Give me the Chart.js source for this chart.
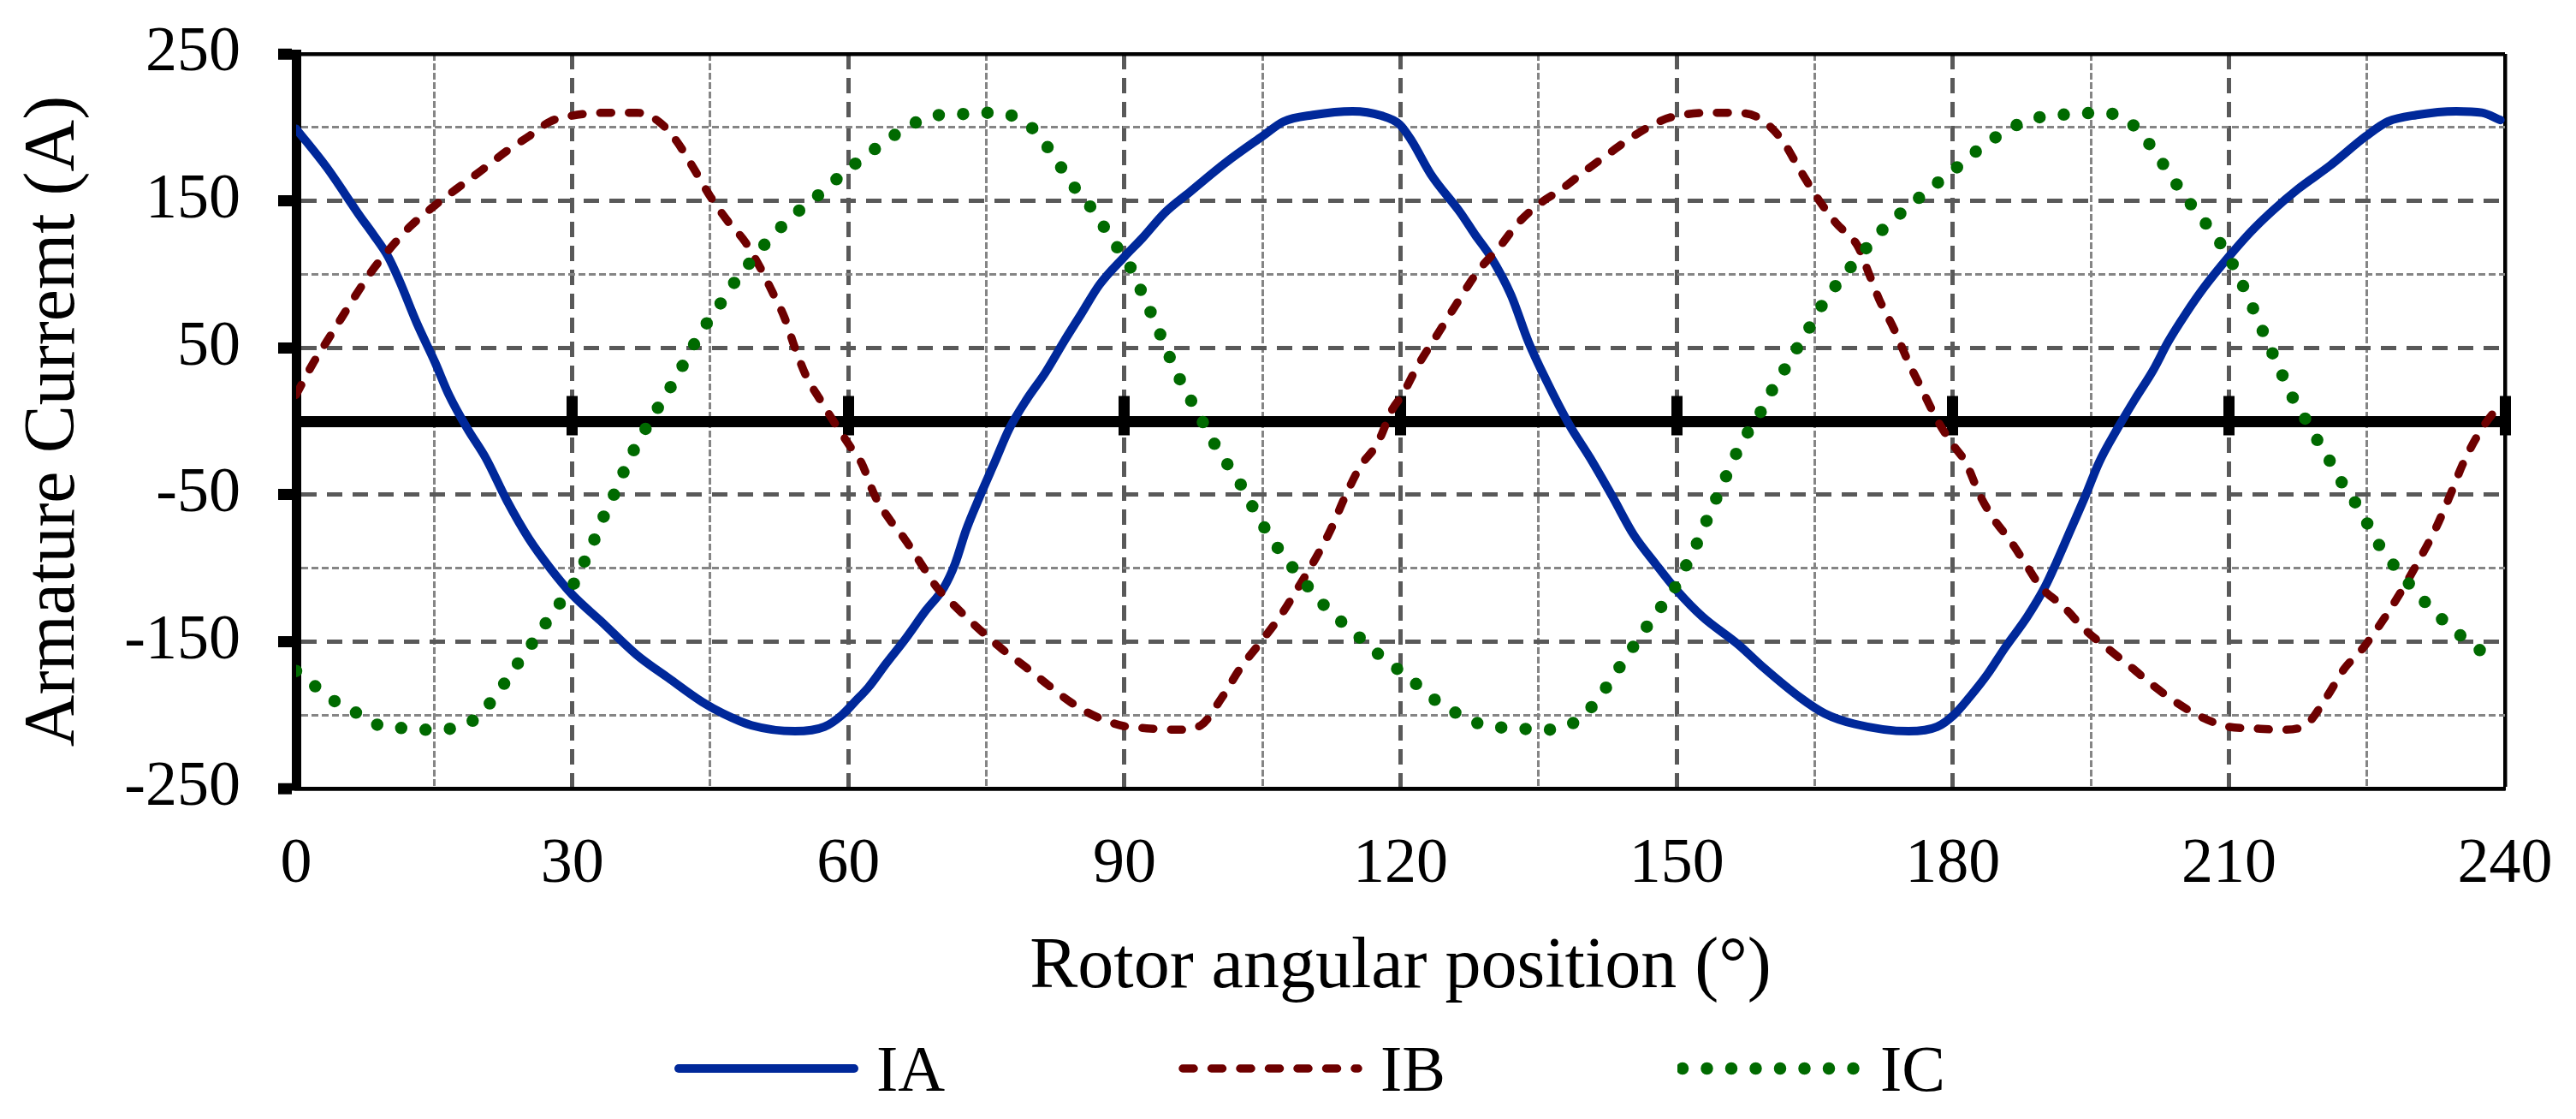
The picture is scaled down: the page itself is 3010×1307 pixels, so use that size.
<!DOCTYPE html>
<html>
<head>
<meta charset="utf-8">
<script src="https://cdn.jsdelivr.net/npm/chart.js@4.4.1/dist/chart.umd.min.js"></script>
<style>
    html, body { margin: 0; padding: 0; background: #fff; }
    #wrap { position: relative; width: 3010px; height: 1307px; }
    #legend { position: absolute; left: 0; top: 1210px; width: 3010px; height: 76px;
              font-family: 'Liberation Serif', 'Times New Roman', serif; font-size: 76px; color: #000; }
    .item { position: absolute; top: 0; height: 76px; display: flex; align-items: center; line-height: 1; }
    .item svg { margin-right: 20px; }
</style>
</head>
<body>
<div id="wrap">
    <canvas id="chartCurrent"></canvas>
    <div id="legend"></div>
</div>
<script>
// Phase currents (angle in degrees, current in A)
const angleA = [0, 3.3, 6.9, 8.4, 10, 11.2, 13.1, 15.1, 16.6, 18.6, 20.6, 22.9, 25.3, 27.6, 30, 33.1, 37, 40.5, 44.1, 46.4,
    49.5, 54.2, 57.4, 59.3, 60.7, 62.2, 64.1, 66.1, 68.4, 70.4, 71.6, 72.8, 74.3, 75.9, 77.5, 79.4, 81.4, 83.4, 85.3, 87.3,
    90, 92, 94.4, 97.1, 101, 105, 107.3, 110.5, 114.8, 117.9, 119.9, 121.2, 123.3, 126.5, 128.1, 129.8, 132, 133.9, 135.9, 138.3,
    140.6, 143, 145.3, 147.7, 150, 152.8, 156.7, 159.5, 163.4, 166.1, 169.3, 175.2, 178.3, 180.1, 181.8, 183.8, 185.7, 188.1, 190, 191.2,
    192.8, 194.4, 195.9, 197.9, 199.8, 201.8, 203.4, 205.3, 207.3, 210, 212.4, 214.7, 217.5, 221, 224.9, 227.3, 230.4, 234.7, 237.5, 239.5];
const currentA = [199, 173, 140, 127, 112, 96, 67, 40, 18, -5, -25, -54, -80, -100, -118, -136, -159, -175, -191, -199,
    -207, -211, -208, -200, -191, -181, -165, -149, -129, -113, -97, -74, -51, -28, -5, 15, 33, 54, 73, 93,
    112, 125, 142, 156, 176, 194, 204, 208.5, 211, 208, 202, 191, 168, 142, 127, 112, 86, 54, 27, -2,
    -25, -51, -77, -97, -115, -133, -152, -168, -188, -199, -206, -211, -208, -200, -188, -172, -154, -133, -113, -97,
    -74, -51, -28, -5, 15, 35, 54, 73, 91, 112, 129, 143, 158, 174, 194, 204, 208.5, 211, 210, 205];

const angleB = [0, 1.8, 3.3, 4.9, 6.5, 8.2, 10, 12.3, 15.1, 17.4, 20.2, 22.9, 25.3, 27.6, 30, 33.9, 37, 39.4, 41.3, 43.3,
    45, 46.8, 48.8, 50.3, 51.9, 53.1, 54.2, 55.4, 57, 58.6, 60.5, 61.4, 62.9, 64.5, 66.1, 67.7, 69.6, 71.6, 74.3, 76.7,
    79.4, 81.8, 84.1, 86.9, 90, 92.4, 95.9, 98.3, 100.6, 102.6, 104.6, 106.9, 108.9, 110.8, 112.4, 114, 115.6, 117.5, 119.1, 120.2,
    121.8, 124.1, 126.1, 128.4, 130.8, 132.8, 135.1, 137.5, 140.2, 142.6, 145.3, 148.1, 150.1, 154.4, 157.5, 159.5, 161.5, 163.4, 165.4, 167.3,
    169.7, 170.8, 172, 173.6, 175.2, 176.7, 178.3, 179.9, 181.4, 183, 184.5, 186.1, 187.7, 189.6, 192, 194.4, 196.7, 199.5, 201.8, 204.2,
    206.9, 210, 212.4, 215.9, 218.3, 220.6, 222.6, 224.5, 226.9, 228.9, 230.8, 232.4, 234, 235.5, 237.5, 239.1, 240];
const currentB = [18, 39, 54, 70, 86, 102, 116, 132, 147, 158, 171, 184, 194, 204, 208, 210, 210, 204, 191, 171,
    153, 137, 122, 106, 86, 70, 50, 31, 14, -2, -20, -28, -51, -67, -80, -95, -113, -126, -142, -155,
    -168, -180, -191, -201, -207.6, -209, -210, -207, -188, -168, -152, -133, -113, -93, -74, -51, -31, -15, 8, 18,
    37, 60, 80, 102, 119, 135, 148, 158, 171, 182, 194, 204, 208, 210, 209.5, 204, 191, 171, 151, 135,
    119, 102, 83, 63, 40, 21, 1, -15, -28, -51, -67, -80, -95, -113, -126, -142, -154, -168, -180, -191,
    -201, -208, -209, -210, -207, -188, -168, -155, -134, -114, -93, -74, -51, -28, -5, 8, 12];

const angleC = [0, 2.2, 4.3, 6.7, 9, 11.8, 14.5, 17, 19.6, 21.3, 22.9, 24.4, 26, 27.5, 29.1, 30.6, 31.7, 32.8, 33.8, 35,
    36, 37.3, 38.6, 40.1, 41.4, 42.7, 44, 45.6, 47, 48.7, 50.3, 52.2, 54.2, 56.2, 58.2, 60.3, 62.4, 64.6, 66.9, 69.4,
    72.2, 74.9, 77.5, 79.9, 81.6, 83.1, 84.6, 86.3, 87.8, 89.3, 90.8, 91.9, 93, 94.1, 95.1, 96.3, 97.6, 98.9, 100.2, 101.7,
    103.1, 104.4, 105.8, 107.3, 109, 110.7, 112.6, 114.6, 116.6, 118.7, 120.9, 122.7, 125, 127.3, 129.8, 132.6, 135.2, 137.9, 140.1, 141.8,
    143.3, 144.8, 146.4, 148, 149.6, 150.8, 152, 153.1, 154.2, 155.3, 156.4, 157.7, 159.1, 160.4, 161.8, 163.2, 164.6, 165.9, 167.5, 169.2,
    170.9, 172.8, 174.8, 176.9, 179, 181.1, 183.2, 185.5, 187.8, 190.4, 193.1, 195.7, 198.4, 200.4, 202.1, 203.6, 205.1, 206.7, 208.4, 209.9,
    211.1, 212.2, 213.3, 214.4, 215.5, 216.6, 218, 219.3, 220.7, 222, 223.5, 224.9, 226.2, 227.8, 229.5, 231.3, 233.2, 235.2, 237.3];
const currentC = [-170, -181, -191, -199, -207, -209, -210, -209, -202, -190, -176, -162, -148, -134, -120, -106, -90, -75, -59, -44,
    -28, -13, 2, 17, 31, 46, 61, 75, 89, 103, 116, 129, 141, 151, 162, 173, 183, 193, 202, 208,
    209, 210, 208.5, 200, 187, 173, 159, 146, 132, 117.5, 103, 87.5, 72, 56, 41, 25, 10, -5, -20, -34,
    -48, -64, -78, -92, -105, -118.5, -131, -142, -153, -164.5, -174, -185, -194.5, -203, -207.6, -209, -210, -208, -199, -186,
    -172, -158, -143, -129, -115.5, -101, -86, -70, -54, -38.5, -23, -8, 6, 21.5, 36, 51, 65.6, 80, 94, 107,
    120, 133, 144, 155, 165.5, 176, 187, 196.5, 204, 208, 209, 210, 207, 196.5, 182, 168, 154, 141, 127, 113,
    98, 83, 67, 51, 36, 20, 5, -9.5, -24, -39, -53, -68, -83, -97, -110, -123, -135, -146, -156];

// Axis labels shown on the figure
const xLabelled = [0, 30, 60, 90, 120, 150, 180, 210, 240];
const yLabelled = [-250, -150, -50, 50, 150, 250];

Chart.defaults.font.family = "'Liberation Serif', 'Times New Roman', serif";
Chart.defaults.color = "#000";

const MAJOR = "#595959", MINOR = "#858585";

function toPoints(xs, ys) {
    return xs.map((x, i) => ({ x: x, y: ys[i] }));
}

function tickValue(c) {
    return c.tick ? c.tick.value : null;
}

// x grid: 30° steps dark dashed, 15° steps light dashed, right edge is the box
function xGrid(v) {
    if (v === 0) return { color: "rgba(0,0,0,0)", width: 1, dash: [] };
    if (v === 240) return { color: "#000", width: 4.5, dash: [] };
    if (xLabelled.includes(v)) return { color: MAJOR, width: 5, dash: [18, 10] };
    return { color: MINOR, width: 3, dash: [8, 3] };
}

// y grid: labelled values dark dashed, others light dashed, 0 is the thick axis
function yGrid(v) {
    if (v === 0) return { color: "#000", width: 13, dash: [] };
    if (v === 250 || v === -250) return { color: "#000", width: 4.5, dash: [] };
    if (yLabelled.includes(v)) return { color: MAJOR, width: 5, dash: [18, 12] };
    return { color: MINOR, width: 3, dash: [8, 4] };
}

// cross tick marks on the zero line (one axis draws them down, one up)
function zeroTicks(len) {
    return {
        axis: "x",
        type: "linear",
        position: { y: 0 },
        min: 0,
        max: 240,
        ticks: { display: false, stepSize: 30 },
        border: { display: false },
        grid: {
            drawOnChartArea: false,
            drawTicks: true,
            tickLength: len,
            tickWidth: 13,
            tickColor: c => tickValue(c) === 0 ? "rgba(0,0,0,0)" : "#000"
        }
    };
}

const canvas = document.getElementById("chartCurrent");
window.chartCurrent = new Chart(canvas, {
    type: "line",
    data: {
        datasets: [
            {
                label: "IA",
                data: toPoints(angleA, currentA),
                borderColor: "#00289a",
                borderWidth: 10,
                order: 3
            },
            {
                label: "IB",
                data: toPoints(angleB, currentB),
                borderColor: "#6e0000",
                borderWidth: 9.5,
                borderDash: [13, 20.5],
                order: 2
            },
            {
                label: "IC",
                data: toPoints(angleC, currentC),
                borderColor: "#006a00",
                borderWidth: 14.5,
                borderDash: [0, 28.5],
                order: 1
            }
        ]
    },
    options: {
        responsive: true,
        maintainAspectRatio: false,
        animation: false,
        events: [],
        layout: { padding: { top: 63, right: 83, bottom: 126, left: 0 } },
        elements: {
            point: { radius: 0 },
            line: { cubicInterpolationMode: "monotone", borderCapStyle: "round", borderJoinStyle: "round", fill: false }
        },
        plugins: {
            legend: { display: false },
            tooltip: { enabled: false }
        },
        scales: {
            x: {
                type: "linear",
                min: 0,
                max: 240,
                afterFit: s => { s.height = 260; s.paddingLeft = 0; s.paddingRight = 0; },
                ticks: {
                    stepSize: 15,
                    autoSkip: false,
                    maxRotation: 0,
                    padding: 45,
                    font: { size: 74 },
                    callback: v => xLabelled.includes(v) ? v : ""
                },
                grid: {
                    drawTicks: false,
                    color: c => xGrid(tickValue(c)).color,
                    lineWidth: c => xGrid(tickValue(c)).width
                },
                border: {
                    color: "#000",
                    width: 4.5,
                    dash: c => c.tick ? xGrid(c.tick.value).dash : []
                },
                title: {
                    display: true,
                    text: "Rotor angular position (°)",
                    font: { size: 84 },
                    padding: { top: 0, bottom: 0 }
                }
            },
            y: {
                type: "linear",
                min: -250,
                max: 250,
                afterFit: s => { s.width = 346; s.paddingTop = 0; s.paddingBottom = 0; },
                ticks: {
                    stepSize: 50,
                    autoSkip: false,
                    padding: 44,
                    font: { size: 74 },
                    callback: v => yLabelled.includes(v) ? v : ""
                },
                grid: {
                    drawTicks: true,
                    tickLength: 21,
                    tickWidth: 13,
                    tickColor: c => yLabelled.includes(tickValue(c)) ? "#000" : "rgba(0,0,0,0)",
                    color: c => yGrid(tickValue(c)).color,
                    lineWidth: c => yGrid(tickValue(c)).width
                },
                border: {
                    color: "#000",
                    width: 11,
                    dash: c => c.tick ? yGrid(c.tick.value).dash : []
                },
                title: {
                    display: true,
                    text: "Armature Curremt (A)",
                    font: { size: 84 },
                    padding: { top: 14, bottom: 0 }
                }
            },
            zeroDown: zeroTicks(16.5),
            zeroUp: zeroTicks(-29.5)
        }
    }
});

// HTML legend built from the datasets
const legendLeft = [787, 1376, 1960];
const legendEl = document.getElementById("legend");
window.chartCurrent.data.datasets.forEach((ds, i) => {
    const w = 217;
    const dash = ds.borderDash ? ds.borderDash.join(" ") : "none";
    const item = document.createElement("div");
    item.className = "item";
    item.style.left = legendLeft[i] + "px";
    item.innerHTML =
        '<svg width="' + w + '" height="20"><line x1="6" y1="10" x2="' + (w - 6) + '" y2="10" stroke="' + ds.borderColor +
        '" stroke-width="' + ds.borderWidth + '" stroke-linecap="round" stroke-dasharray="' + dash + '"/></svg>' +
        '<span>' + ds.label + '</span>';
    legendEl.appendChild(item);
});
</script>
</body>
</html>
